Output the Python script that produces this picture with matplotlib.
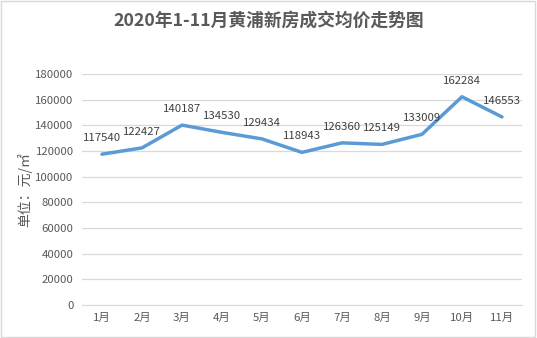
import numpy as np
import matplotlib
matplotlib.use('Agg')
import matplotlib.pyplot as plt
from matplotlib.patches import Rectangle

plt.rcParams['font.family'] = ['Noto Sans CJK SC', 'DejaVu Sans']

# 2020年1-11月 黄浦新房成交均价 (元/㎡)
months = ['1月', '2月', '3月', '4月', '5月', '6月', '7月', '8月', '9月', '10月', '11月']
prices = [117540, 122427, 140187, 134530, 129434, 118943, 126360, 125149, 133009, 162284, 146553]
yticks = [0, 20000, 40000, 60000, 80000, 100000, 120000, 140000, 160000, 180000]

fig = plt.figure(figsize=(5.37, 3.38), dpi=100)
ax = fig.add_axes([0.1527, 0.0976, 0.8193, 0.6834])

x = np.arange(len(months))
ax.plot(x, prices, color='#5B9BD5', lw=2.5, solid_capstyle='round', zorder=3)
for xi, v in zip(x, prices):
    ax.annotate(str(v), (xi, v), xytext=(0, 8), textcoords='offset points',
                ha='center', va='bottom', fontsize=8.2, color='#404040')

ax.set_xlim(-0.5, len(months) - 0.5)
ax.set_ylim(0, 180000)
ax.set_yticks(yticks)
ax.set_yticklabels([str(t) for t in yticks])
ax.set_xticks(x)
ax.set_xticklabels(months)
ax.tick_params(length=0, labelsize=8.2, colors='#595959', pad=6)
ax.grid(axis='y', color='#D9D9D9', lw=0.9)
ax.set_axisbelow(True)
for s in ['top', 'right', 'left']:
    ax.spines[s].set_visible(False)
ax.spines['bottom'].set_color('#D9D9D9')

fig.text(0.047, 0.44, '单位：元/㎡', rotation=90, ha='center', va='center',
         fontsize=10, color='#595959')
fig.text(0.5, 0.94, '2020年1-11月黄浦新房成交均价走势图', ha='center', va='center',
         fontsize=12.8, fontweight='bold', color='#595959')

# outer frame
fig.patches.append(Rectangle((0.002, 0.003), 0.995, 0.994, transform=fig.transFigure,
                             fill=False, edgecolor='#D9D9D9', lw=1))

fig.savefig('out.png', dpi=100)
